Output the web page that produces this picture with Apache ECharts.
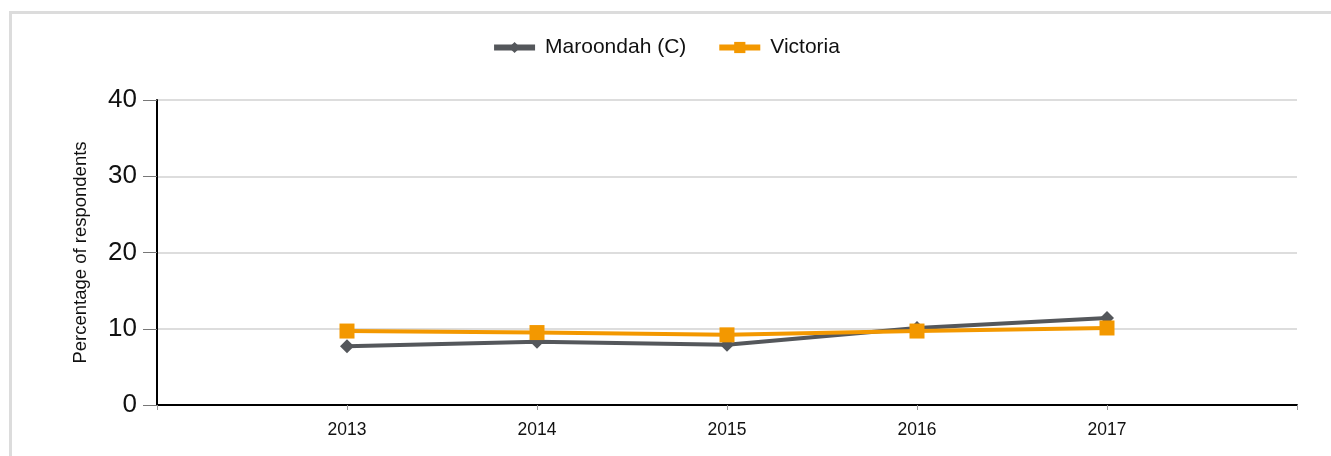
<!DOCTYPE html>
<html>
<head>
<meta charset="utf-8">
<script src="https://cdn.jsdelivr.net/npm/echarts@6/dist/echarts.min.js"></script>
<style>
html,body{margin:0;padding:0;background:#fff;overflow:hidden;}
#frame{position:absolute;left:9px;top:11px;width:1400px;height:500px;border:3px solid #dcdcdc;box-sizing:border-box;}
#chart{position:absolute;left:0;top:0;width:1331px;height:456px;}
</style>
</head>
<body>
<div id="frame"></div>
<div id="chart"></div>
<script>
const years = [2013, 2014, 2015, 2016, 2017];
const seriesNames = ['Maroondah (C)', 'Victoria'];
const maroondah = [7.7, 8.3, 7.9, 10.1, 11.4];
const victoria = [9.7, 9.5, 9.2, 9.7, 10.1];
const yAxisTitle = 'Percentage of respondents';

const font = '"Liberation Sans", Arial, sans-serif';
const chart = echarts.init(document.getElementById('chart'), null, {renderer: 'canvas'});
chart.setOption({
  animation: false,
  legend: {
    top: 32,
    left: 'center',
    itemWidth: 41,
    itemHeight: 14,
    itemGap: 30,
    lineStyle: {width: 6},
    textStyle: {fontFamily: font, fontSize: 21, color: '#111', padding: [0, 0, 0, 5]},
    data: seriesNames
  },
  grid: {left: 157, right: 34, top: 100, bottom: 51, containLabel: false},
  xAxis: {
    type: 'value',
    min: years[0] - 1,
    max: years[years.length - 1] + 1,
    interval: 1,
    splitLine: {show: false},
    axisLine: {show: true, onZero: false, lineStyle: {color: '#000', width: 2}},
    axisTick: {show: true, length: 5, lineStyle: {color: '#999', width: 1}},
    axisLabel: {
      margin: 16,
      fontFamily: font, fontSize: 17.5, color: '#111',
      formatter: v => (years.indexOf(v) >= 0 ? String(v) : '')
    }
  },
  yAxis: {
    type: 'value',
    min: 0, max: 40, interval: 10,
    name: yAxisTitle,
    nameLocation: 'middle',
    nameGap: 67,
    nameTextStyle: {fontFamily: font, fontSize: 18.5, color: '#111'},
    axisLine: {show: true, lineStyle: {color: '#000', width: 2}},
    axisTick: {show: true, length: 14, lineStyle: {color: '#777', width: 1}},
    axisLabel: {margin: 20, fontFamily: font, fontSize: 26, color: '#111'},
    splitLine: {show: true, lineStyle: {color: '#dddddd', width: 2}}
  },
  series: [
    {
      name: seriesNames[0], type: 'line',
      data: years.map((y, i) => [y, maroondah[i]]),
      symbol: 'diamond', symbolSize: 14,
      lineStyle: {width: 4, color: '#54575b'},
      itemStyle: {color: '#54575b'},
      z: 2
    },
    {
      name: seriesNames[1], type: 'line',
      data: years.map((y, i) => [y, victoria[i]]),
      symbol: 'rect', symbolSize: 15,
      lineStyle: {width: 4, color: '#f39800'},
      itemStyle: {color: '#f39800'},
      z: 3
    }
  ]
});
</script>
</body>
</html>
